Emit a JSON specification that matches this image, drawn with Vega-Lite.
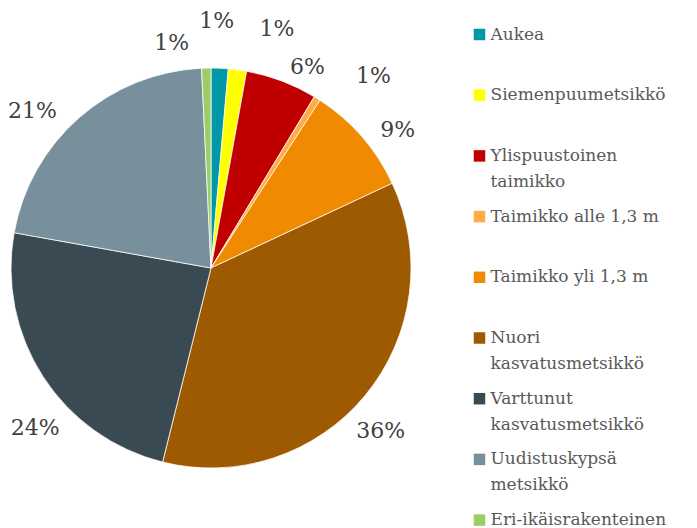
{
  "$schema": "https://vega.github.io/schema/vega-lite/v6.json",
  "width": 422,
  "height": 520,
  "autosize": {"type": "none"},
  "padding": {"left": 0, "top": 8, "right": 275, "bottom": 0},
  "background": "white",
  "config": {"view": {"stroke": null}, "font": "DejaVu Serif"},
  "data": {
    "values": [
      {"i": 1, "cat": "Aukea", "v": 0.0138},
      {"i": 2, "cat": "Siemenpuumetsikkö", "v": 0.0147},
      {"i": 3, "cat": "Ylispuustoinen taimikko", "v": 0.0578},
      {"i": 4, "cat": "Taimikko alle 1,3 m", "v": 0.0053},
      {"i": 5, "cat": "Taimikko yli 1,3 m", "v": 0.0886},
      {"i": 6, "cat": "Nuori kasvatusmetsikkö", "v": 0.358},
      {"i": 7, "cat": "Varttunut kasvatusmetsikkö", "v": 0.239},
      {"i": 8, "cat": "Uudistuskypsä metsikkö", "v": 0.214},
      {"i": 9, "cat": "Eri-ikäisrakenteinen", "v": 0.0075}
    ]
  },
  "encoding": {
    "theta": {"field": "v", "type": "quantitative", "stack": true},
    "order": {"field": "i", "type": "quantitative"}
  },
  "layer": [
    {
      "mark": {"type": "arc", "outerRadius": 200, "stroke": "white", "strokeWidth": 0.75},
      "encoding": {
        "color": {
          "field": "cat",
          "type": "nominal",
          "scale": {
            "domain": ["Aukea", "Siemenpuumetsikkö", "Ylispuustoinen taimikko", "Taimikko alle 1,3 m", "Taimikko yli 1,3 m", "Nuori kasvatusmetsikkö", "Varttunut kasvatusmetsikkö", "Uudistuskypsä metsikkö", "Eri-ikäisrakenteinen"],
            "range": ["#0097a7", "#ffff00", "#c00000", "#ffab47", "#f08a00", "#9e5a00", "#3a4a53", "#78909c", "#9ccc65"]
          },
          "legend": {
            "title": null,
            "orient": "none",
            "legendX": 471,
            "legendY": 18,
            "padding": 0,
            "symbolType": "square",
            "symbolSize": 132,
            "symbolStrokeWidth": 0,
            "labelFont": "DejaVu Serif",
            "labelFontSize": 17,
            "labelColor": "#595959",
            "labelOffset": 2.5,
            "labelLimit": 300,
            "labelBaseline": "top",
            "gridAlign": "all",
            "rowPadding": 16.7,
            "labelExpr": "test(/^Taimikko/, datum.label) || indexof(datum.label, ' ') < 0 ? datum.label : split(datum.label, ' ')",
            "encoding": {"labels": {"dy": {"value": -8}, "lineHeight": {"value": 26}}}
          }
        }
      }
    },
    {
      "mark": {"type": "text", "radius": 225, "dx": -34, "dy": 0, "fontSize": 22, "fill": "#404040", "font": "DejaVu Serif"},
      "encoding": {"detail": {"field": "cat"}, "text": {"condition": {"test": "datum.cat == 'Eri-ikäisrakenteinen'", "field": "v", "type": "quantitative", "format": ".0%"}, "value": ""}}
    },
    {
      "mark": {"type": "text", "radius": 225, "dx": -4, "dy": -22, "fontSize": 22, "fill": "#404040", "font": "DejaVu Serif"},
      "encoding": {"detail": {"field": "cat"}, "text": {"condition": {"test": "datum.cat == 'Aukea'", "field": "v", "type": "quantitative", "format": ".0%"}, "value": ""}}
    },
    {
      "mark": {"type": "text", "radius": 225, "dx": 36, "dy": -16, "fontSize": 22, "fill": "#404040", "font": "DejaVu Serif"},
      "encoding": {"detail": {"field": "cat"}, "text": {"condition": {"test": "datum.cat == 'Siemenpuumetsikkö'", "field": "v", "type": "quantitative", "format": ".0%"}, "value": ""}}
    },
    {
      "mark": {"type": "text", "radius": 225, "dx": 17, "dy": 9, "fontSize": 22, "fill": "#404040", "font": "DejaVu Serif"},
      "encoding": {"detail": {"field": "cat"}, "text": {"condition": {"test": "datum.cat == 'Ylispuustoinen taimikko'", "field": "v", "type": "quantitative", "format": ".0%"}, "value": ""}}
    },
    {
      "mark": {"type": "text", "radius": 225, "dx": 43, "dy": -1, "fontSize": 22, "fill": "#404040", "font": "DejaVu Serif"},
      "encoding": {"detail": {"field": "cat"}, "text": {"condition": {"test": "datum.cat == 'Taimikko alle 1,3 m'", "field": "v", "type": "quantitative", "format": ".0%"}, "value": ""}}
    },
    {
      "mark": {"type": "text", "radius": 225, "dx": 17, "dy": 10, "fontSize": 22, "fill": "#404040", "font": "DejaVu Serif"},
      "encoding": {"detail": {"field": "cat"}, "text": {"condition": {"test": "datum.cat == 'Taimikko yli 1,3 m'", "field": "v", "type": "quantitative", "format": ".0%"}, "value": ""}}
    },
    {
      "mark": {"type": "text", "radius": 225, "dx": -4, "dy": 20, "fontSize": 22, "fill": "#404040", "font": "DejaVu Serif"},
      "encoding": {"detail": {"field": "cat"}, "text": {"condition": {"test": "datum.cat == 'Nuori kasvatusmetsikkö'", "field": "v", "type": "quantitative", "format": ".0%"}, "value": ""}}
    },
    {
      "mark": {"type": "text", "radius": 225, "dx": 13, "dy": 38, "fontSize": 22, "fill": "#404040", "font": "DejaVu Serif"},
      "encoding": {"detail": {"field": "cat"}, "text": {"condition": {"test": "datum.cat == 'Varttunut kasvatusmetsikkö'", "field": "v", "type": "quantitative", "format": ".0%"}, "value": ""}}
    },
    {
      "mark": {"type": "text", "radius": 225, "dx": -30, "dy": 12, "fontSize": 22, "fill": "#404040", "font": "DejaVu Serif"},
      "encoding": {"detail": {"field": "cat"}, "text": {"condition": {"test": "datum.cat == 'Uudistuskypsä metsikkö'", "field": "v", "type": "quantitative", "format": ".0%"}, "value": ""}}
    }
  ]
}
